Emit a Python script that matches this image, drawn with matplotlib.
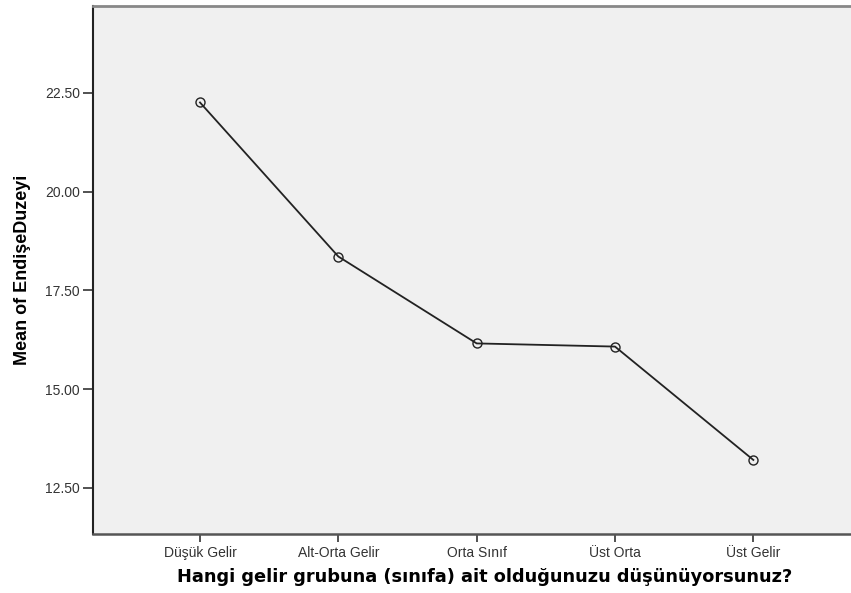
import matplotlib
matplotlib.use("Agg")
import matplotlib.pyplot as plt

# income groups and mean worry score
groups = ["Düşük Gelir", "Alt-Orta Gelir", "Orta Sınıf", "Üst Orta", "Üst Gelir"]
means = [22.26, 18.36, 16.16, 16.08, 13.21]
yticks = [12.5, 15.0, 17.5, 20.0, 22.5]

fig = plt.figure(figsize=(8.51, 5.93), dpi=100)
ax = fig.add_axes([0.1087, 0.0995, 0.8913, 0.8909])
ax.set_facecolor("#f0f0f0")

x = list(range(len(groups)))
ax.plot(x, means, color="#222222", lw=1.3, marker="o", ms=6.5,
        mfc="none", mec="#222222", mew=1.0)

ax.set_xlim(-0.777, 4.706)
ax.set_ylim(11.335, 24.71)
ax.set_xticks(x)
ax.set_xticklabels(groups, family="Liberation Sans", fontsize=10, color="#333333")
ax.set_yticks(yticks)
ax.set_yticklabels(["%.2f" % v for v in yticks], family="Liberation Sans",
                   fontsize=10, color="#333333")
ax.tick_params(axis="y", length=7, width=1.2, color="#333333", pad=2)
ax.tick_params(axis="x", length=6, width=1.2, color="#333333", pad=3)

ax.spines["right"].set_visible(False)
ax.spines["top"].set_color("#888888")
ax.spines["top"].set_linewidth(2)
ax.spines["left"].set_color("#222222")
ax.spines["left"].set_linewidth(1.5)
ax.spines["bottom"].set_color("#555555")
ax.spines["bottom"].set_linewidth(1.8)

ax.set_xlabel("Hangi gelir grubuna (sınıfa) ait olduğunuzu düşünüyorsunuz?",
              family="DejaVu Sans", fontweight="bold", fontsize=12.8)
ax.xaxis.set_label_coords(0.517, -0.064)
ax.set_ylabel("Mean of EndişeDuzeyi", family="Liberation Sans",
              fontweight="bold", fontsize=13, labelpad=10)

fig.savefig("out.png", dpi=100)
